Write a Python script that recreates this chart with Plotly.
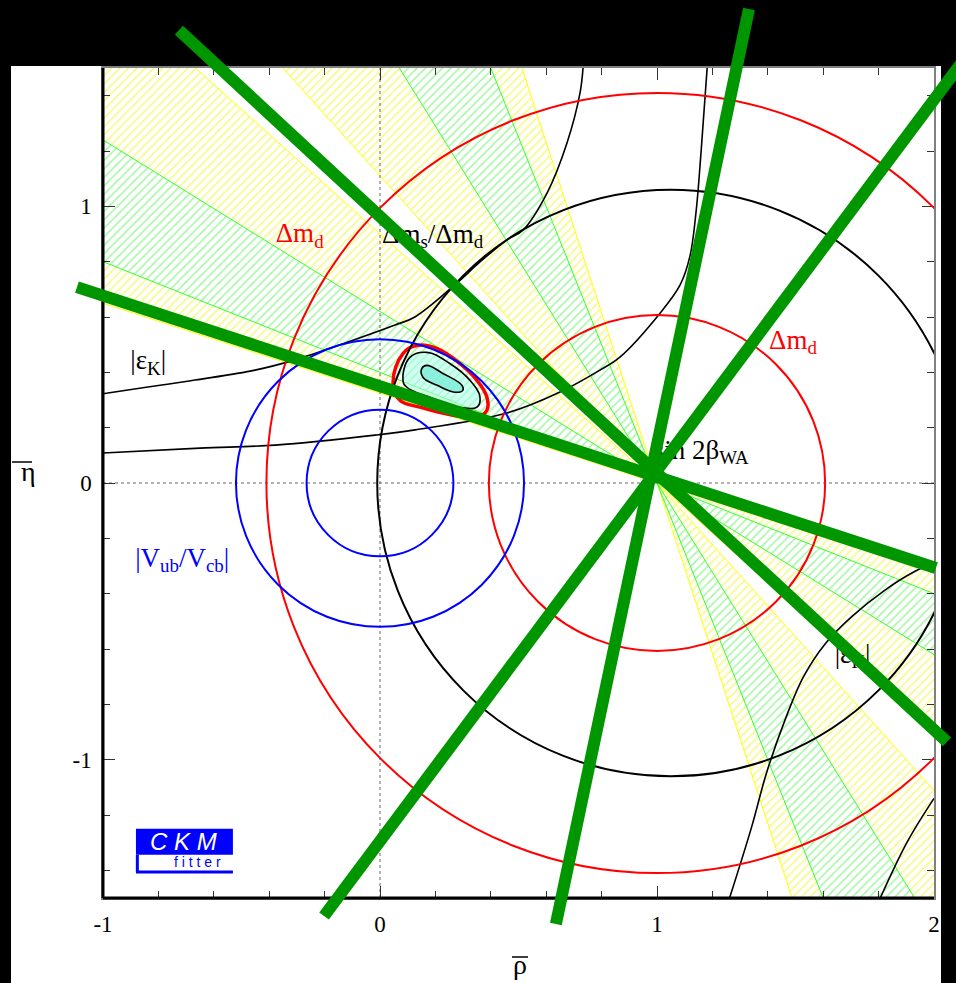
import numpy as np
import plotly.graph_objects as go

# ---------------- data ----------------
rho_range = [-1.0, 2.0]
eta_range = [-1.5, 1.5]

x_tick_vals = [-1, 0, 1, 2]
x_tick_text = ["-1", "0", "1", "2"]
y_tick_vals = [-1, 0, 1]
y_tick_text = ["-1", "0", "1"]

# sin 2beta_WA wedges (apex and opening angles in degrees)
beta_apex = [1.0, 0.0]
beta_green_deg = [21.8, 31.8]
beta_yellow_deg = [18.0, 42.0]

# circles: centre on rho axis and radius
dmd_center = [1.0, 1.0]
dmd_radius = [0.607, 1.41]
dms_center = [1.05]
dms_radius = [1.06]
vub_center = [0.0, 0.0]
vub_radius = [0.265, 0.52]

# |eps_K| curves
epsk_low_rho = [-1.004, -0.650, -0.379, -0.018, 0.126, 0.458, 0.650, 0.794, 0.866, 1.011, 1.083, 1.119, 1.141, 1.159, 1.181]
epsk_low_eta = [0.108, 0.126, 0.137, 0.173, 0.192, 0.253, 0.329, 0.408, 0.455, 0.614, 0.715, 0.820, 0.980, 1.195, 1.500]
epsk_up_rho = [-1.004, -0.668, -0.451, -0.307, -0.126, 0.054, 0.126, 0.278, 0.361, 0.458, 0.516, 0.603, 0.675, 0.722, 0.733]
epsk_up_eta = [0.322, 0.372, 0.408, 0.445, 0.506, 0.571, 0.600, 0.723, 0.799, 0.878, 0.914, 1.048, 1.229, 1.409, 1.500]
epsk_r1_rho = [1.262, 1.342, 1.395, 1.462, 1.529, 1.609, 1.703, 1.823, 1.930, 2.0]
epsk_r1_eta = [-1.500, -1.242, -1.049, -0.857, -0.700, -0.579, -0.483, -0.387, -0.320, -0.289]
epsk_r2_rho = [1.806, 1.903, 2.0]
epsk_r2_eta = [-1.500, -1.298, -1.140]

# fit contours
cl_red_rho = [0.047, 0.083, 0.133, 0.206, 0.288, 0.350, 0.386, 0.386, 0.350, 0.263, 0.144, 0.072]
cl_red_eta = [0.360, 0.468, 0.497, 0.486, 0.432, 0.371, 0.310, 0.263, 0.238, 0.245, 0.274, 0.299]
cl_mid_rho = [0.083, 0.108, 0.169, 0.252, 0.325, 0.361, 0.350, 0.288, 0.180, 0.097]
cl_mid_eta = [0.371, 0.454, 0.472, 0.432, 0.371, 0.310, 0.274, 0.274, 0.310, 0.346]
cl_in_rho = [0.151, 0.169, 0.227, 0.296, 0.299, 0.270, 0.206, 0.155]
cl_in_eta = [0.414, 0.425, 0.396, 0.353, 0.335, 0.328, 0.353, 0.382]

# labels
label_text = ["Δm<sub>d</sub>", "Δm<sub>s</sub>/Δm<sub>d</sub>", "|ε<sub>K</sub>|", "Δm<sub>d</sub>",
              "sin 2β<sub>WA</sub>", "|V<sub>ub</sub>/V<sub>cb</sub>|", "|ε<sub>K</sub>|"]
label_rho = [-0.29, 0.19, -0.837, 1.491, 1.16, -0.714, 1.706]
label_eta = [0.895, 0.893, 0.437, 0.51, 0.112, -0.278, -0.625]
label_color = ["#ff0000", "#000000", "#000000", "#ff0000", "#000000", "#0000ff", "#000000"]

# overlaid thick green lines (end points in rho/eta)
green_rho_a = [-0.726, -1.094, 1.332, 2.101]
green_eta_a = [1.637, 0.708, 1.713, 1.521]
green_rho_b = [2.047, 2.007, 0.635, -0.202]
green_eta_b = [-0.936, -0.307, -1.594, -1.565]

# ---------------- figure ----------------
W, H = 956, 983
ML, MR, MT, MB = 103, 22, 68, 85
PW, PH = W - ML - MR, H - MT - MB


def px2paper(x, y):
    return (x - ML) / PW, (H - MB - y) / PH


def data2paper(r, e):
    return (r - rho_range[0]) / (rho_range[1] - rho_range[0]), (e - eta_range[0]) / (eta_range[1] - eta_range[0])


def wedge(angles, steep):
    a1, a2 = np.radians(angles)
    if steep:
        a1, a2 = np.pi / 2 - a2, np.pi / 2 - a1
    R = 4.0
    x0, y0 = beta_apex
    xs = [x0, x0 - R * np.cos(a1), x0 - R * np.cos(a2), x0, x0 + R * np.cos(a1), x0 + R * np.cos(a2), x0]
    ys = [y0, y0 + R * np.sin(a1), y0 + R * np.sin(a2), y0, y0 - R * np.sin(a1), y0 - R * np.sin(a2), y0]
    return xs, ys


fig = go.Figure()

for angles, col, fg in [(beta_yellow_deg, "#ffff00", "#f2f200"), (beta_green_deg, "#33ff33", "#44ee44")]:
    xs, ys = [], []
    for steep in (False, True):
        a, b = wedge(angles, steep)
        xs += a + [None]
        ys += b + [None]
    fig.add_trace(go.Scatter(x=xs, y=ys, mode="lines", fill="toself", fillcolor="white",
                             fillpattern=dict(shape="/", fgcolor=fg, bgcolor="white", size=6, solidity=0.25),
                             line=dict(color=col, width=1), hoverinfo="skip", showlegend=False))

# reference lines at rho=0 and eta=0
fig.add_trace(go.Scatter(x=[0, 0], y=eta_range, mode="lines",
                         line=dict(color="#666666", width=1, dash="dot"), showlegend=False))
fig.add_trace(go.Scatter(x=rho_range, y=[0, 0], mode="lines",
                         line=dict(color="#666666", width=1, dash="3px,3px"), showlegend=False))

for rr, ee in [(epsk_low_rho, epsk_low_eta), (epsk_up_rho, epsk_up_eta),
               (epsk_r1_rho, epsk_r1_eta), (epsk_r2_rho, epsk_r2_eta)]:
    fig.add_trace(go.Scatter(x=rr, y=ee, mode="lines", line=dict(color="black", width=1.6, shape="spline"),
                             showlegend=False))

# contours
fig.add_trace(go.Scatter(x=cl_red_rho + cl_red_rho[:1], y=cl_red_eta + cl_red_eta[:1], mode="lines",
                         line=dict(color="#ff0000", width=3.5, shape="spline", smoothing=1.2),
                         showlegend=False))
fig.add_trace(go.Scatter(x=cl_mid_rho + cl_mid_rho[:1], y=cl_mid_eta + cl_mid_eta[:1], mode="lines",
                         fill="toself", fillcolor="rgba(170,255,235,0.55)",
                         line=dict(color="black", width=1.6, shape="spline", smoothing=1.2),
                         showlegend=False))
fig.add_trace(go.Scatter(x=cl_in_rho + cl_in_rho[:1], y=cl_in_eta + cl_in_eta[:1], mode="lines",
                         fill="toself", fillcolor="rgba(120,235,215,0.75)",
                         line=dict(color="black", width=1.6, shape="spline", smoothing=1.2),
                         showlegend=False))

fig.add_trace(go.Scatter(x=label_rho, y=label_eta, mode="text", text=label_text,
                         textfont=dict(family="Liberation Serif", size=27, color=label_color),
                         textposition="middle center", showlegend=False))

shapes = []
for centers, radii, col in [(dmd_center, dmd_radius, "#ff0000"), (dms_center, dms_radius, "black"),
                            (vub_center, vub_radius, "#0000ff")]:
    for c, r in zip(centers, radii):
        shapes.append(dict(type="circle", xref="x", yref="y", x0=c - r, x1=c + r, y0=-r, y1=r,
                           line=dict(color=col, width=2), layer="above"))

# thick left/bottom axis lines
shapes.append(dict(type="line", xref="paper", yref="paper", x0=0, x1=1, y0=0, y1=0,
                   line=dict(color="black", width=3), layer="above"))
shapes.append(dict(type="line", xref="paper", yref="paper", x0=0, x1=0, y0=0, y1=1,
                   line=dict(color="black", width=3), layer="above"))

# white panel and black borders
px0, py0 = px2paper(11, 990)
px1, py1 = px2paper(941, 66)
shapes.append(dict(type="rect", xref="paper", yref="paper", x0=px0, x1=px1, y0=py0, y1=py1,
                   fillcolor="white", line=dict(width=0), layer="below"))
bx0, by0 = px2paper(941, 990)
bx1, by1 = px2paper(960, -5)
shapes.append(dict(type="rect", xref="paper", yref="paper", x0=bx0, x1=bx1, y0=by0, y1=by1,
                   fillcolor="black", line=dict(width=0), layer="above"))

# overlines of the axis titles
ox0, oy0 = px2paper(512, 957)
ox1, _ = px2paper(528, 957)
shapes.append(dict(type="line", xref="paper", yref="paper", x0=ox0, x1=ox1, y0=oy0, y1=oy0,
                   line=dict(color="black", width=1.5), layer="above"))
hx0, hy0 = px2paper(12, 462)
hx1, _ = px2paper(32, 462)
shapes.append(dict(type="line", xref="paper", yref="paper", x0=hx0, x1=hx1, y0=hy0, y1=hy0,
                   line=dict(color="black", width=1.5), layer="above"))

# CKM fitter logo
lx0, lx1 = -0.881, -0.531
ly0, ly1, ly2 = -1.250, -1.344, -1.406
shapes.append(dict(type="rect", xref="x", yref="y", x0=lx0, x1=lx1, y0=ly1, y1=ly0,
                   fillcolor="#0000ff", line=dict(width=0), layer="above"))
shapes.append(dict(type="line", xref="x", yref="y", x0=lx0 + 0.005, x1=lx0 + 0.005, y0=ly2, y1=ly1,
                   line=dict(color="#0000ff", width=3), layer="above"))
shapes.append(dict(type="line", xref="x", yref="y", x0=lx0, x1=lx1, y0=ly2, y1=ly2,
                   line=dict(color="#0000ff", width=3), layer="above"))

# green overlay lines
for ra, ea, rb, eb in zip(green_rho_a, green_eta_a, green_rho_b, green_eta_b):
    xa, ya = data2paper(ra, ea)
    xb, yb = data2paper(rb, eb)
    shapes.append(dict(type="line", xref="paper", yref="paper", x0=xa, y0=ya, x1=xb, y1=yb,
                       line=dict(color="#009600", width=12), layer="above"))

annotations = [
    dict(text="<i>C K M</i>", x=(lx0 + lx1) / 2 - 0.005, y=(ly0 + ly1) / 2, xref="x", yref="y", showarrow=False,
         font=dict(family="Liberation Sans", size=24, color="white")),
    dict(text="f i t t e r", x=-0.66, y=(ly1 + ly2) / 2 + 0.004, xref="x", yref="y", showarrow=False,
         font=dict(family="Liberation Sans", size=14, color="#0000ff")),
    dict(text="ρ", x=px2paper(520, 0)[0], y=px2paper(0, 982)[1], xref="paper", yref="paper",
         showarrow=False, font=dict(family="Liberation Serif", size=28, color="black")),
    dict(text="η", x=px2paper(19, 0)[0], y=px2paper(0, 471)[1], xref="paper", yref="paper",
         showarrow=False, font=dict(family="Liberation Serif", size=28, color="black")),
]

axis_common = dict(showgrid=False, zeroline=False, showline=True, linecolor="#808080", linewidth=1.5,
                   mirror="ticks", ticks="inside", ticklen=12, tickwidth=1.2, tickcolor="#333333",
                   tickfont=dict(family="Liberation Serif", size=23, color="black"),
                   automargin=False, fixedrange=True)

fig.update_layout(
    width=W, height=H,
    margin=dict(l=ML, r=MR, t=MT, b=MB),
    paper_bgcolor="black", plot_bgcolor="white",
    xaxis=dict(range=rho_range, tickmode="array", tickvals=x_tick_vals, ticktext=x_tick_text,
               ticklabelstandoff=5,
               minor=dict(tickmode="linear", tick0=0, dtick=0.2, ticks="inside", ticklen=7,
                          tickcolor="#333333", tickwidth=1.2),
               **axis_common),
    yaxis=dict(range=eta_range, tickmode="array", tickvals=y_tick_vals, ticktext=y_tick_text,
               ticklabelstandoff=5,
               minor=dict(tickmode="linear", tick0=0, dtick=0.2, ticks="inside", ticklen=7,
                          tickcolor="#333333", tickwidth=1.2),
               **axis_common),
    shapes=shapes, annotations=annotations, showlegend=False,
)

fig.write_html("out.html", config=dict(displayModeBar=False),
               post_script="document.body.style.margin='0px';document.body.style.background='black';")
